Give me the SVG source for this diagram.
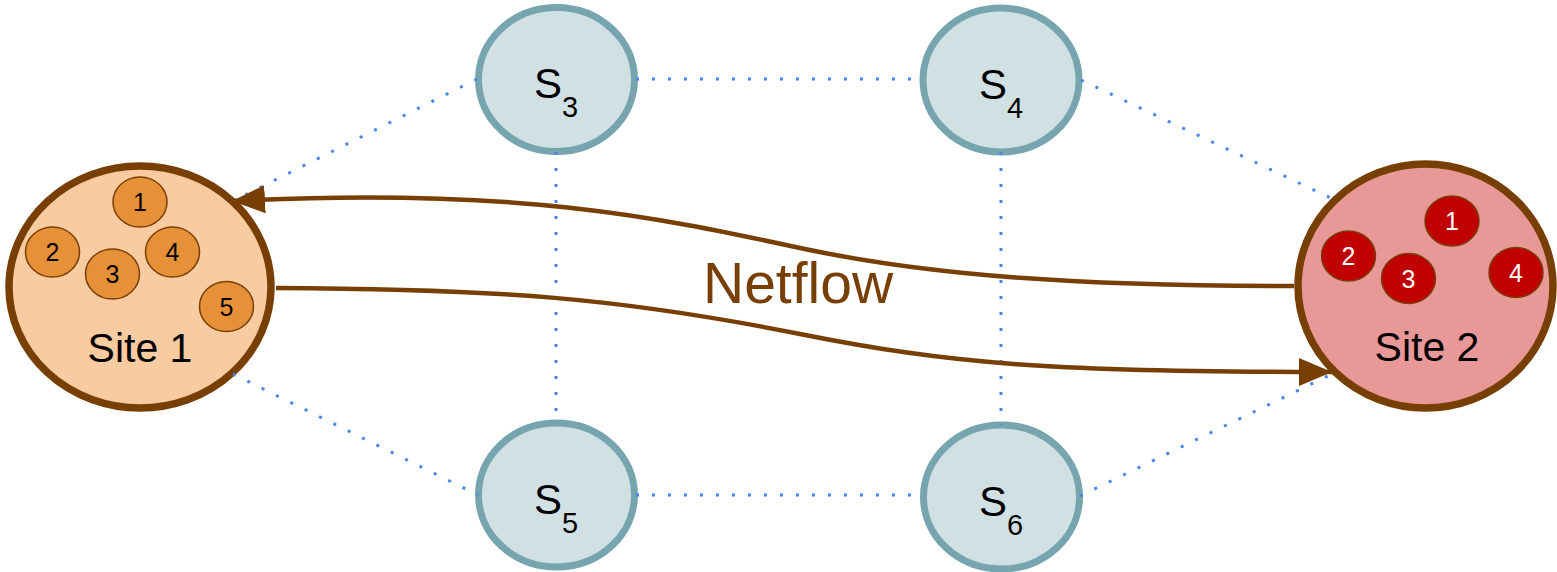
<svg xmlns="http://www.w3.org/2000/svg" width="1557" height="572" viewBox="0 0 1557 572">
<style>
.dot{fill:none;stroke:#4a86e8;stroke-width:3;stroke-dasharray:3 13}
.flow{fill:none;stroke:#783f04;stroke-width:4.5}
.sw{fill:#d1e0e3;stroke:#76a5af;stroke-width:7}
.s{font-family:"Liberation Sans",Arial,sans-serif;font-size:42px;fill:#000}
.sub{font-size:29px}
.site{font-family:"Liberation Sans",Arial,sans-serif;font-size:41px;fill:#000;text-anchor:middle}
.num{font-family:"Liberation Sans",Arial,sans-serif;font-size:25px;text-anchor:middle}
.o{fill:#e69138;stroke:#783f04;stroke-width:1.5}
.r{fill:#c00000;stroke:#783f04;stroke-width:1.5}
</style>
<defs>
<marker id="ah" markerUnits="userSpaceOnUse" markerWidth="34" markerHeight="30" refX="33" refY="14" orient="auto">
<path d="M0,0 L33,14 L0,28 z" fill="#783f04"/>
</marker>
</defs>
<g id="site1">
<ellipse cx="140" cy="287" rx="131" ry="121" fill="#f8cba0" stroke="#783f04" stroke-width="7.5"/>
<ellipse class="o" cx="140" cy="202" rx="27" ry="25"/><text class="num" x="140" y="211">1</text>
<ellipse class="o" cx="52.5" cy="252" rx="27" ry="25"/><text class="num" x="52.5" y="261">2</text>
<ellipse class="o" cx="112.5" cy="274" rx="27" ry="25"/><text class="num" x="112.5" y="283">3</text>
<ellipse class="o" cx="172.5" cy="252" rx="27" ry="25"/><text class="num" x="172.5" y="261">4</text>
<ellipse class="o" cx="226.5" cy="306.5" rx="27" ry="25"/><text class="num" x="226.5" y="315.5">5</text>
<text class="site" x="140" y="362">Site 1</text>
</g>
<g id="site2">
<ellipse cx="1425.5" cy="286" rx="127.5" ry="122" fill="#e99898" stroke="#783f04" stroke-width="7.5"/>
<ellipse class="r" cx="1452" cy="221" rx="27" ry="25"/><text class="num" x="1452" y="230" fill="#fff">1</text>
<ellipse class="r" cx="1348.5" cy="256" rx="27" ry="25"/><text class="num" x="1348.5" y="265" fill="#fff">2</text>
<ellipse class="r" cx="1408.5" cy="278.5" rx="27" ry="25"/><text class="num" x="1408.5" y="287.5" fill="#fff">3</text>
<ellipse class="r" cx="1516" cy="272.5" rx="27" ry="25"/><text class="num" x="1516" y="281.5" fill="#fff">4</text>
<text class="site" x="1427" y="361">Site 2</text>
</g>
<g id="s3">
<ellipse class="sw" cx="556.5" cy="79.5" rx="78" ry="72"/>
<text class="s" x="534" y="98">S<tspan class="sub" dy="19">3</tspan></text>
</g>
<g id="s4">
<ellipse class="sw" cx="1001" cy="80" rx="78" ry="72"/>
<text class="s" x="979" y="98.5">S<tspan class="sub" dy="19">4</tspan></text>
</g>
<g id="s5">
<ellipse class="sw" cx="556.5" cy="495" rx="78" ry="72"/>
<text class="s" x="534" y="513.5">S<tspan class="sub" dy="19">5</tspan></text>
</g>
<g id="s6">
<ellipse class="sw" cx="1001.5" cy="497" rx="78" ry="72"/>
<text class="s" x="979" y="515.5">S<tspan class="sub" dy="19">6</tspan></text>
</g>
<g id="connectors">
<path class="dot" d="M477,79 L233,201"/>
<path class="dot" d="M636,79 L921,79"/>
<path class="dot" d="M1081,80 L1333,199"/>
<path class="dot" d="M556,152 L556,423"/>
<path class="dot" d="M1001,152 L1001,425"/>
<path class="dot" d="M233,374 L478,495"/>
<path class="dot" d="M636,495 L921,495"/>
<path class="dot" d="M1080,496 L1334,373"/>
<path class="flow" marker-end="url(#ah)" d="M1294,286 C1080,286 930,276 800,248 C670,220 520,186 232,201"/>
<path class="flow" marker-end="url(#ah)" d="M276,288 C500,289 620,298 800,334 C950,364 1050,372 1332,372"/>
<text x="703" y="303" font-family="Liberation Sans, Arial, sans-serif" font-size="57" fill="#783f04">Netflow</text>
</g>
</svg>
